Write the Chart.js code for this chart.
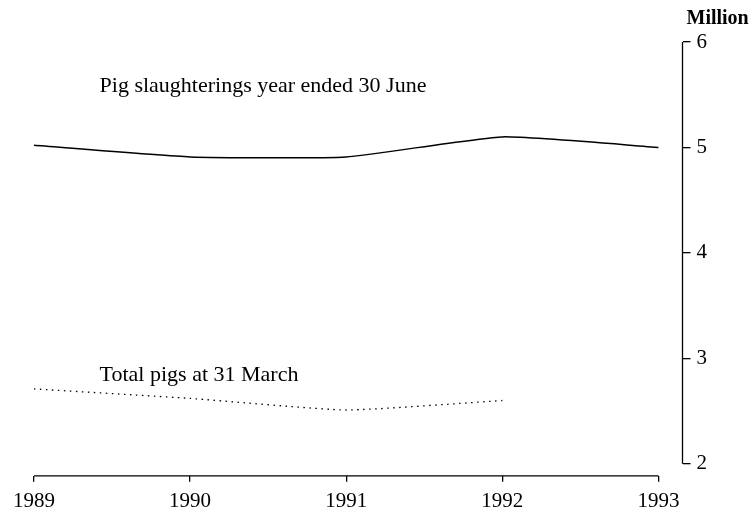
<!DOCTYPE html>
<html>
<head>
<meta charset="utf-8">
<script src="https://cdn.jsdelivr.net/npm/chart.js@4.4.1/dist/chart.umd.min.js"></script>
<style>
  html, body { margin: 0; padding: 0; background: #fff; }
  #wrap { width: 751px; height: 514px; }
</style>
</head>
<body>
<div id="wrap"><canvas id="myChart" width="751" height="514"></canvas></div>
<script>
const years = [1989, 1990, 1991, 1992, 1993];
const slaughterings = [5.02, 4.91, 4.91, 5.10, 5.00];
const totalPigs = [2.71, 2.62, 2.51, 2.60, null];
const yTicks = [2, 3, 4, 5, 6];

const serif = "'Liberation Serif', 'DejaVu Serif', serif";

// axis lines and the text labels, placed through the scales
const axisPlugin = {
  id: "axisPlugin",
  afterDraw(chart) {
    const c = chart.ctx;
    const x = chart.scales.x;
    const y = chart.scales.y;
    const area = chart.chartArea;
    c.save();
    c.strokeStyle = "#000";
    c.lineWidth = 1.3;
    // y axis line, only over 2..6
    c.beginPath();
    c.moveTo(area.right, y.getPixelForValue(6));
    c.lineTo(area.right, y.getPixelForValue(2));
    c.stroke();
    // x axis line from first to last year
    c.beginPath();
    c.moveTo(x.getPixelForValue(years[0]), area.bottom);
    c.lineTo(x.getPixelForValue(years[years.length - 1]), area.bottom);
    c.stroke();
    // texts
    c.fillStyle = "#000";
    c.textBaseline = "middle";
    c.textAlign = "left";
    c.font = "22px " + serif;
    c.fillText("Pig slaughterings year ended 30 June", x.getPixelForValue(1989.42), y.getPixelForValue(5.58));
    c.fillText("Total pigs at 31 March", x.getPixelForValue(1989.42), y.getPixelForValue(2.84));
    c.font = "bold 20px " + serif;
    c.fillText("Million", area.right + 4, 19);
    c.restore();
  },
};

const ctx = document.getElementById("myChart").getContext("2d");

new Chart(ctx, {
  type: "line",
  data: {
    labels: years,
    datasets: [
      {
        label: "Pig slaughterings year ended 30 June",
        data: years.map((yr, i) => ({ x: yr, y: slaughterings[i] })),
        borderColor: "#000",
        borderWidth: 1.5,
        pointRadius: 0,
        tension: 0.15,
        fill: false,
      },
      {
        label: "Total pigs at 31 March",
        data: years.map((yr, i) => ({ x: yr, y: totalPigs[i] })),
        borderColor: "#000",
        borderWidth: 1.3,
        borderDash: [1.5, 4.5],
        pointRadius: 0,
        tension: 0.15,
        fill: false,
      },
    ],
  },
  options: {
    responsive: false,
    animation: false,
    layout: {
      padding: { left: 34, right: 38, top: 42, bottom: -7 },
    },
    plugins: {
      legend: { display: false },
      tooltip: { enabled: false },
    },
    scales: {
      x: {
        type: "linear",
        min: 1989,
        max: 1993.154,
        afterBuildTicks: (axis) => {
          axis.ticks = years.map((v) => ({ value: v }));
        },
        grid: {
          drawOnChartArea: false,
          drawTicks: true,
          tickLength: 6,
          color: "#000",
          lineWidth: 1.3,
        },
        border: { display: false },
        ticks: {
          color: "#000",
          font: { family: serif, size: 21 },
          padding: 7,
          maxRotation: 0,
          callback: (v) => String(v),
        },
      },
      y: {
        position: "right",
        min: 1.886,
        max: 6,
        afterBuildTicks: (axis) => {
          axis.ticks = yTicks.map((v) => ({ value: v }));
        },
        grid: {
          drawOnChartArea: false,
          drawTicks: true,
          tickLength: 8,
          color: "#000",
          lineWidth: 1.3,
        },
        border: { display: false },
        ticks: {
          color: "#000",
          font: { family: serif, size: 21 },
          padding: 6,
        },
      },
    },
  },
  plugins: [axisPlugin],
});
</script>
</body>
</html>
